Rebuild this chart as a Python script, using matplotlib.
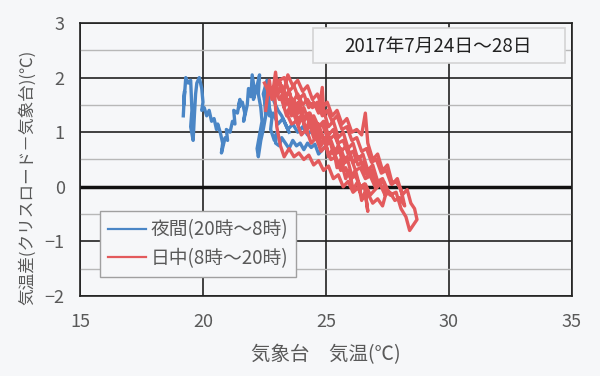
import matplotlib
matplotlib.use("Agg")
import matplotlib.pyplot as plt
from matplotlib.patches import Rectangle

plt.rcParams['font.family'] = ['Noto Sans CJK JP', 'DejaVu Sans']

# night (20h-8h): (station temp, difference)
night_pts = [
    (19.20, 1.30), (19.25, 1.75), (19.22, 1.50), (19.30, 2.00), (19.40, 1.90),
    (19.50, 1.95), (19.55, 1.40), (19.50, 1.10), (19.60, 0.85), (19.65, 1.30),
    (19.70, 1.70), (19.75, 1.90), (19.85, 2.00), (19.95, 1.80), (20.00, 1.55),
    (19.95, 1.40), (20.05, 1.45), (20.15, 1.30), (20.25, 1.40), (20.35, 1.20),
    (20.45, 1.25), (20.55, 1.05), (20.60, 1.15), (20.70, 1.00), (20.80, 0.80),
    (20.75, 0.62), (20.90, 0.90), (21.00, 0.85), (20.95, 1.05), (21.10, 1.00),
    (21.20, 1.20), (21.30, 1.15), (21.25, 1.40), (21.40, 1.35), (21.50, 1.60),
    (21.45, 1.45), (21.60, 1.55), (21.70, 1.35), (21.65, 1.20), (21.80, 1.50),
    (21.85, 1.80), (21.95, 1.65), (22.00, 2.05), (22.10, 1.75), (22.05, 1.60),
    (22.20, 1.85), (22.30, 2.05), (22.25, 1.70), (22.35, 1.45), (22.40, 1.20),
    (22.30, 0.95), (22.20, 0.70), (22.25, 0.55), (22.35, 0.85), (22.45, 1.05),
    (22.55, 1.30), (22.50, 1.60), (22.65, 1.80), (22.70, 1.45), (22.80, 1.25),
    (22.75, 1.05), (22.90, 0.85), (23.00, 1.00), (22.95, 0.80), (23.10, 0.75),
    (23.20, 0.90), (23.35, 0.80), (23.50, 0.70), (23.65, 0.85), (23.80, 0.75),
    (23.95, 0.80), (24.10, 0.68), (24.25, 0.80), (24.40, 0.72), (24.55, 0.78),
    (24.70, 0.60), (24.85, 0.68), (25.00, 0.75), (24.85, 0.95), (24.65, 0.90),
    (24.45, 1.05), (24.25, 0.95), (24.05, 1.10), (23.85, 1.00), (23.65, 1.15),
    (23.45, 1.05), (23.25, 1.25), (23.05, 1.15), (22.85, 1.35), (22.70, 1.30),
    (22.55, 1.50), (22.45, 1.70), (22.60, 1.95), (22.75, 1.75), (22.90, 1.55),
    (23.05, 1.40), (23.20, 1.30), (23.35, 1.15), (23.50, 1.00),
]

# daytime (8h-20h)
day_pts = [
    # day 1
    (22.55, 1.40), (22.70, 1.95), (22.80, 1.60), (22.95, 2.10), (23.05, 1.70),
    (23.20, 1.85), (23.30, 1.45), (23.45, 1.60), (23.60, 1.30), (23.70, 1.50),
    (23.90, 1.15), (24.00, 1.30), (24.20, 1.00), (24.30, 1.20), (24.50, 0.90),
    (24.65, 1.05), (24.80, 0.75), (24.95, 0.90), (25.10, 0.55), (25.30, 0.70),
    (25.45, 0.35), (25.60, 0.50), (25.80, 0.15), (25.95, 0.30), (26.10, -0.05),
    (26.30, 0.10), (26.45, -0.25), (26.60, -0.10), (26.70, -0.45),
    (26.55, 0.05), (26.40, -0.05), (26.20, 0.30), (26.05, 0.20), (25.85, 0.55),
    (25.70, 0.40), (25.50, 0.75), (25.30, 0.60), (25.10, 0.95), (24.90, 0.85),
    (24.70, 1.15), (24.50, 1.00), (24.30, 1.35), (24.10, 1.20), (23.90, 1.55),
    (23.70, 1.40), (23.50, 1.75), (23.30, 1.60), (23.10, 1.95), (22.90, 1.80),
    # day 2
    (23.00, 1.10), (23.15, 0.75), (23.30, 0.55), (23.50, 0.70), (23.70, 0.55),
    (23.90, 0.62), (24.10, 0.50), (24.30, 0.58), (24.50, 0.40), (24.70, 0.48),
    (24.90, 0.30), (25.10, 0.38), (25.30, 0.15), (25.50, 0.22), (25.70, 0.00),
    (25.90, 0.10), (26.10, -0.10), (26.30, -0.02), (26.50, -0.20), (26.70, -0.12),
    (26.90, -0.30), (27.10, -0.22), (27.30, -0.35),
    (27.45, -0.10), (27.30, 0.15), (27.10, 0.10), (26.90, 0.40), (26.70, 0.30),
    (26.50, 0.60), (26.30, 0.50), (26.10, 0.80), (25.90, 0.70), (25.70, 1.00),
    (25.50, 0.90), (25.30, 1.20), (25.10, 1.10), (24.90, 1.40), (24.85, 1.82),
    (24.70, 1.35), (24.50, 1.55), (24.30, 1.45), (24.10, 1.70), (23.90, 1.60),
    (23.70, 1.85), (23.50, 1.75), (23.30, 2.00),
    # day 3
    (23.10, 1.95), (23.30, 1.65), (23.50, 1.75), (23.70, 1.45), (23.90, 1.55),
    (24.10, 1.25), (24.35, 1.35), (24.60, 1.05), (24.85, 1.15), (25.10, 0.85),
    (25.35, 0.95), (25.60, 0.65), (25.85, 0.75), (26.10, 0.45), (26.35, 0.55),
    (26.60, 0.25), (26.85, 0.30), (27.10, 0.05), (27.35, 0.10), (27.60, -0.15),
    (27.85, -0.10), (28.05, -0.40), (28.25, -0.55), (28.40, -0.80), (28.55, -0.70),
    (28.70, -0.60), (28.60, -0.40), (28.45, -0.30),
    (28.30, -0.05), (28.10, -0.15), (27.90, 0.15), (27.70, 0.05), (27.50, 0.40),
    (27.30, 0.30), (27.10, 0.60), (26.90, 0.50), (26.70, 0.80), (26.60, 1.35),
    (26.45, 0.95), (26.25, 1.05), (26.05, 1.00), (25.85, 1.25), (25.65, 1.15),
    (25.45, 1.40), (25.25, 1.30), (25.05, 1.55), (24.85, 1.45), (24.65, 1.70),
    (24.45, 1.60), (24.25, 1.85), (24.05, 1.75), (23.85, 1.95), (23.65, 1.85),
    (23.45, 2.05),
    # day 4
    (23.20, 1.60), (23.40, 1.30), (23.60, 1.45), (23.80, 1.20), (24.00, 1.30),
    (24.20, 1.05), (24.40, 1.15), (24.60, 0.90), (24.80, 1.00), (25.00, 0.75),
    (25.20, 0.85), (25.40, 0.60), (25.60, 0.70), (25.80, 0.45), (26.00, 0.55),
    (26.20, 0.30), (26.40, 0.35), (26.60, 0.15), (26.80, 0.20), (27.00, 0.00),
    (27.20, 0.05), (27.40, -0.15), (27.60, -0.10), (27.80, -0.25), (28.00, -0.20),
    (28.20, -0.35),
    (28.05, -0.05), (27.85, 0.10), (27.65, 0.05), (27.45, 0.30), (27.25, 0.25),
    (27.05, 0.50), (26.85, 0.45), (26.65, 0.70), (26.45, 0.65), (26.25, 0.90),
    (26.05, 0.85), (25.85, 1.10), (25.65, 1.05), (25.45, 1.30), (25.25, 1.20),
    (25.05, 1.40), (24.85, 1.30), (24.65, 1.55), (24.45, 1.45), (24.25, 1.60),
    (24.05, 1.50), (23.85, 1.70), (23.65, 1.55),
    # day 5
    (23.40, 1.35), (23.60, 1.15), (23.80, 1.20), (24.00, 0.95), (24.20, 1.05),
    (24.40, 0.80), (24.60, 0.90), (24.80, 0.65), (25.00, 0.75), (25.20, 0.50),
    (25.40, 0.55), (25.60, 0.30), (25.80, 0.35), (26.00, 0.15), (26.20, 0.20),
    (26.40, 0.00), (26.60, 0.05), (26.80, -0.15), (27.00, -0.05), (27.10, 0.00),
    (26.90, 0.25), (26.70, 0.20), (26.50, 0.45), (26.30, 0.40), (26.10, 0.65),
    (25.90, 0.60), (25.70, 0.85), (25.50, 0.80), (25.30, 1.05), (25.10, 0.95),
    (24.90, 1.20), (24.70, 1.10), (24.50, 1.30), (24.30, 1.20), (24.10, 1.45),
    (23.90, 1.35), (23.70, 1.60), (23.50, 1.50), (23.30, 1.75), (23.10, 1.60),
    (22.90, 1.85), (22.70, 1.70), (22.50, 1.90),
]

night_label = '夜間(20時～8時)'
day_label = '日中(8時～20時)'
title = '2017年7月24日～28日'

night_x, night_y = zip(*night_pts)
day_x, day_y = zip(*day_pts)

bg = '#f6f7f9'
grey = '#595959'

fig = plt.figure(figsize=(6, 3.76), dpi=100, facecolor=bg)
ax = fig.add_axes([0.1333, 0.2128, 0.82, 0.726])
ax.set_facecolor(bg)

ax.plot(night_x, night_y, color='#4a86c6', lw=2.4, label=night_label, zorder=3)
ax.plot(day_x, day_y, color='#e35a5c', lw=2.4, label=day_label, zorder=4)

ax.set_xlim(15, 35)
ax.set_ylim(-2, 3)
ax.set_xticks([15, 20, 25, 30, 35])
ax.set_yticks([-2, -1, 0, 1, 2, 3])
ax.set_yticks([-1.5, -0.5, 0.5, 1.5, 2.5], minor=True)
ax.grid(True, which='major', color='#222222', lw=1.2, zorder=1)
ax.grid(True, which='minor', axis='y', color='#b8b8b8', lw=1.0, zorder=1)
ax.axhline(0, color='#111111', lw=2.5, zorder=2)
ax.tick_params(which='both', length=0, labelsize=13, colors=grey)
ax.tick_params(axis='x', pad=12)
ax.tick_params(axis='y', pad=11)
for s in ax.spines.values():
    s.set_color('#222222')
    s.set_linewidth(1.2)

ax.set_xlabel('気象台　気温(℃)', fontsize=14, color=grey, labelpad=10)
ax.set_ylabel('気温差(クリスロード－気象台)(℃)', fontsize=12, color=grey)
ax.yaxis.set_label_coords(-0.09, 0.436)

leg = ax.legend(loc='lower left', bbox_to_anchor=(0.04, 0.068), fontsize=13.5,
                frameon=True, fancybox=False, handlelength=2.0, borderaxespad=0,
                borderpad=0.45, labelspacing=0.4, handletextpad=0.25)
leg.get_frame().set_facecolor(bg)
leg.get_frame().set_edgecolor('#a0a0a0')
leg.get_frame().set_alpha(1)
for t in leg.get_texts():
    t.set_color(grey)
for ln in leg.get_lines():
    ln.set_linewidth(1.6)

# title box
ax.add_patch(Rectangle((0.4736, 0.8535), 0.512, 0.128, transform=ax.transAxes,
                       facecolor=bg, edgecolor='#d4d4d4', lw=1.2, zorder=6))
ax.text(0.728, 0.915, title, transform=ax.transAxes, ha='center', va='center',
        fontsize=13.5, color='#222222', zorder=7)

fig.savefig('out.png', dpi=100, facecolor=bg)
